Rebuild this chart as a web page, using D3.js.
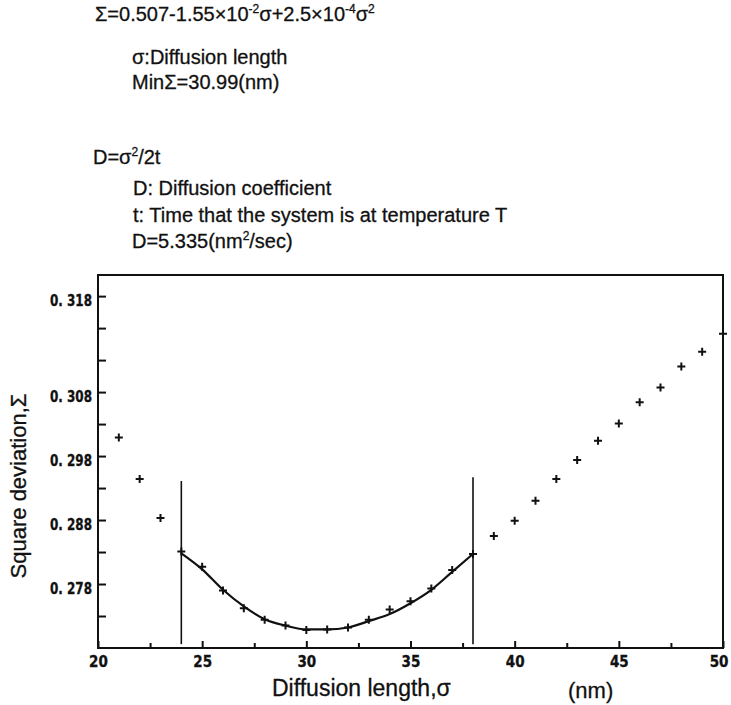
<!DOCTYPE html>
<html>
<head>
<meta charset="utf-8">
<script src="https://cdn.jsdelivr.net/npm/d3@7"></script>
<style>
  body { margin: 0; background: #fff; }
  svg { display: block; }
  .note { font-family: "Liberation Sans", Arial, sans-serif; font-size: 20px; fill: #111; stroke: #111; stroke-width: 0.3; }
  .title { font-family: "Liberation Sans", Arial, sans-serif; fill: #111; stroke: #111; stroke-width: 0.3; }
  .tick line { stroke: #111; stroke-width: 2; }
</style>
</head>
<body>
<div id="chart"></div>
<script>
// measured points: diffusion length (nm) vs square deviation
var sigma = [21, 22, 23, 24, 25, 26, 27, 28, 29, 30, 31, 32, 33, 34, 35, 36, 37, 38, 39, 40, 41, 42, 43, 44, 45, 46, 47, 48, 49, 50];
var deviation = [0.3009, 0.2944, 0.2883, 0.2831, 0.2807, 0.2770, 0.2742, 0.2724, 0.2715, 0.2708, 0.2709, 0.2712, 0.2724, 0.2740, 0.2753, 0.2773, 0.2802, 0.2827, 0.2855, 0.2879, 0.2910, 0.2944, 0.2974, 0.3004, 0.3031, 0.3064, 0.3087, 0.3120, 0.3143, 0.3171];

// fitted parabola
var fitSigma = [24, 25, 26, 27, 28, 29, 30, 31, 32, 33, 34, 35, 36, 37, 38];
var fitValue = [0.2828, 0.2803, 0.2771, 0.2745, 0.2725, 0.2715, 0.2709, 0.2709, 0.2712, 0.2722, 0.2733, 0.2750, 0.2771, 0.2799, 0.2827];

// fitting window markers
var fitBounds = [24, 38];
var fitBoundTop = [0.2941, 0.2947];
var fitBoundBottom = 0.2686;

// axis ticks
var xMajor = [20, 25, 30, 35, 40, 45, 50];
var xMinor = [22.5, 27.5, 32.5, 37.5, 42.5, 47.5];
var yTicks = [0.273, 0.278, 0.283, 0.288, 0.293, 0.298, 0.303, 0.308, 0.313, 0.318, 0.323];
var yLabels = {0.278: "0. 278", 0.288: "0. 288", 0.298: "0. 298", 0.308: "0. 308", 0.323: "0. 318"};

var notes = [
  {x: 95, y: 21, parts: [["Σ=0.507-1.55×10"], ["-2", 1], ["σ+2.5×10"], ["-4", 1], ["σ"], ["2", 1]]},
  {x: 132, y: 64, parts: [["σ:Diffusion length"]]},
  {x: 132, y: 89, parts: [["MinΣ=30.99(nm)"]]},
  {x: 93, y: 164, parts: [["D=σ"], ["2", 1], ["/2t"]]},
  {x: 133, y: 195, parts: [["D: Diffusion coefficient"]]},
  {x: 133, y: 222, parts: [["t: Time that the system is at temperature T"]]},
  {x: 132, y: 248, parts: [["D=5.335(nm"], ["2", 1], ["/sec)"]]}
];

var W = 731, H = 705;
var svg = d3.select("#chart").append("svg").attr("width", W).attr("height", H);

var x = d3.scaleLinear().domain([20, 50]).range([98, 723]);
var y = d3.scaleLinear().domain([0.268, 0.3263]).range([648, 275]);

// annotation text block
notes.forEach(function(n) {
  var t = svg.append("text").attr("class", "note").attr("x", n.x).attr("y", n.y);
  n.parts.forEach(function(p) {
    var s = t.append("tspan").text(p[0]);
    if (p[1]) s.attr("font-size", "12px").attr("dy", -8);
    else if (t.selectAll("tspan").size() > 1) s.attr("dy", 8);
  });
});

function styleTicks(g) {
  g.attr("font-size", 15).attr("font-family", "'DejaVu Sans Condensed', 'DejaVu Sans', sans-serif");
  g.selectAll(".tick text")
    .style("font-weight", "bold")
    .style("font-size", "15px")
    .attr("fill", "#111")
    .attr("stroke", "#111").attr("stroke-width", 0.3);
}

// axes
var gx = svg.append("g").attr("transform", "translate(0," + y.range()[0] + ")")
  .call(d3.axisBottom(x).tickValues(xMajor).tickSizeInner(-7).tickSizeOuter(0).tickPadding(8));
gx.select(".domain").remove();
styleTicks(gx);
// last label sits against the right edge of the page
gx.selectAll(".tick text").filter(function(d) { return d === 50; })
  .attr("text-anchor", "end").attr("x", 5);

var gxm = svg.append("g").attr("transform", "translate(0," + y.range()[0] + ")")
  .call(d3.axisBottom(x).tickValues(xMinor).tickSizeInner(-5).tickSizeOuter(0).tickFormat(""));
gxm.select(".domain").remove();

var gy = svg.append("g").attr("transform", "translate(" + x.range()[0] + ",0)")
  .call(d3.axisLeft(y).tickValues(yTicks).tickSizeInner(-8).tickSizeOuter(0).tickPadding(6)
    .tickFormat(function(d) { return yLabels[d] || ""; }));
gy.select(".domain").remove();
styleTicks(gy);
gy.selectAll(".tick text").filter(function(d) { return yLabels[d]; })
  .attr("textLength", 42).attr("lengthAdjust", "spacingAndGlyphs").attr("dy", "0.6em");

// frame
svg.append("rect")
  .attr("x", x.range()[0]).attr("y", y.range()[1])
  .attr("width", x.range()[1] - x.range()[0])
  .attr("height", y.range()[0] - y.range()[1])
  .attr("fill", "none").attr("stroke", "#111").attr("stroke-width", 2);

// fitting window lines
svg.selectAll(".bound").data(fitBounds).enter().append("line")
  .attr("class", "bound")
  .attr("x1", function(d) { return x(d); }).attr("x2", function(d) { return x(d); })
  .attr("y1", function(d, i) { return y(fitBoundTop[i]); })
  .attr("y2", y(fitBoundBottom))
  .attr("stroke", "#111").attr("stroke-width", 1.6);

// fitted curve
var line = d3.line()
  .x(function(d, i) { return x(fitSigma[i]); })
  .y(function(d) { return y(d); })
  .curve(d3.curveMonotoneX);
svg.append("path").datum(fitValue)
  .attr("d", line)
  .attr("fill", "none").attr("stroke", "#111").attr("stroke-width", 2.2);

// plus markers
svg.selectAll(".pt").data(deviation).enter().append("path")
  .attr("class", "pt")
  .attr("transform", function(d, i) { return "translate(" + x(sigma[i]) + "," + y(d) + ")"; })
  .attr("d", "M-4,0H4M0,-4V4")
  .attr("stroke", "#111").attr("stroke-width", 2);

// axis titles
svg.append("text").attr("class", "title")
  .attr("x", 272).attr("y", 696).attr("font-size", "23px")
  .text("Diffusion length,σ");
svg.append("text").attr("class", "title")
  .attr("x", 568).attr("y", 698).attr("font-size", "22px")
  .text("(nm)");
svg.append("text").attr("class", "title")
  .attr("transform", "translate(26,486) rotate(-90)")
  .attr("text-anchor", "middle").attr("font-size", "22px")
  .text("Square deviation,Σ");
</script>
</body>
</html>
